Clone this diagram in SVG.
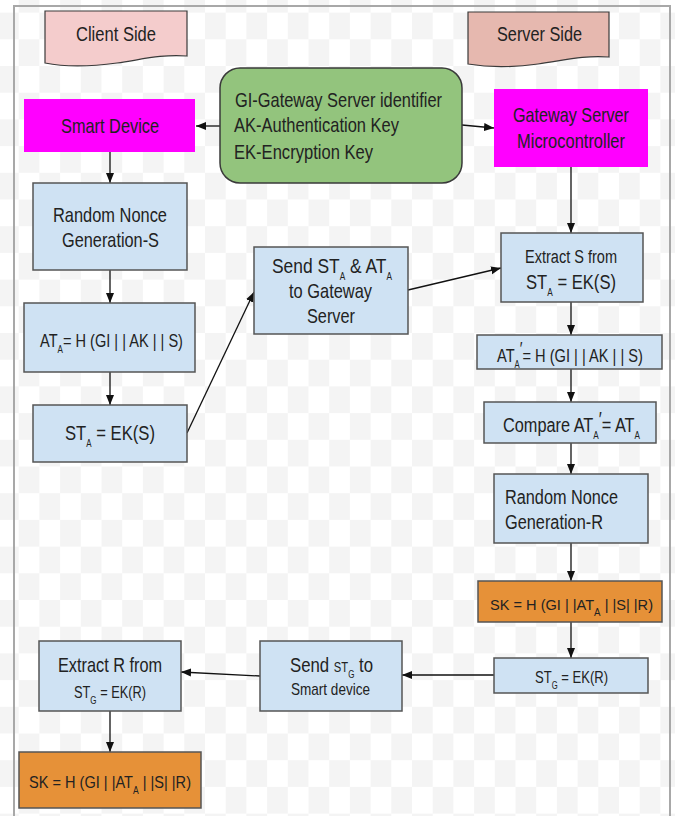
<svg xmlns="http://www.w3.org/2000/svg" width="675" height="816" viewBox="0 0 675 816">
  <style>
    .t { font-family: "Liberation Sans", Arial, sans-serif; fill: #222; }
    .f21 { font-size: 21px; }
    .f20 { font-size: 20px; }
    .f19 { font-size: 19px; }
    .f18 { font-size: 18px; }
    .f17 { font-size: 17px; }
    .f16 { font-size: 16px; }
    .f15 { font-size: 15px; }
    .sub { font-size: 10px; }
    .blue { fill: #cfe2f3; stroke: #555; stroke-width: 1.5; }
    .orange { fill: #e69138; stroke: #555; stroke-width: 1.5; }
    .magenta { fill: #ff00ff; }
    .green { fill: #93c47d; stroke: #3a3a3a; stroke-width: 1.5; }
    .banner { stroke: #3a3a3a; stroke-width: 1.2; }
    .edge { fill: none; stroke: #111; stroke-width: 1.3; marker-end: url(#arrow); }
  </style>
  <defs>
    <pattern id="checker" patternUnits="userSpaceOnUse" x="-2" y="12.6" width="41.4" height="53.4">
      <rect width="41.4" height="53.4" fill="#ffffff"/>
      <rect width="20.7" height="26.7" fill="#f4f4f4"/>
      <rect x="20.7" y="26.7" width="20.7" height="26.7" fill="#f4f4f4"/>
    </pattern>
    <marker id="arrow" markerUnits="userSpaceOnUse" markerWidth="10" markerHeight="10" viewBox="0 0 10 10" refX="10" refY="5" orient="auto">
      <path d="M0,1 L10,5 L0,9 Z" fill="#111"/>
    </marker>
  </defs>

  <!-- background and frame -->
  <rect width="675" height="816" fill="url(#checker)"/>
  <rect x="14" y="6" width="656" height="830" fill="none" stroke="#a8a8a8" stroke-width="2"/>

  <!-- connectors -->
  <g id="connectors">
    <line class="edge" x1="220" y1="126" x2="196" y2="126"/>
    <line class="edge" x1="462" y1="125" x2="494" y2="128"/>
    <line class="edge" x1="110" y1="152" x2="110" y2="183"/>
    <line class="edge" x1="110" y1="270" x2="110" y2="303"/>
    <line class="edge" x1="110" y1="372" x2="110" y2="405"/>
    <line class="edge" x1="187" y1="433" x2="254" y2="292"/>
    <line class="edge" x1="408" y1="290" x2="501" y2="268"/>
    <line class="edge" x1="571" y1="167" x2="571" y2="233"/>
    <line class="edge" x1="571" y1="302" x2="571" y2="335"/>
    <line class="edge" x1="571" y1="369" x2="571" y2="402"/>
    <line class="edge" x1="571" y1="443" x2="571" y2="474"/>
    <line class="edge" x1="571" y1="543" x2="571" y2="581"/>
    <line class="edge" x1="571" y1="622" x2="571" y2="658"/>
    <line class="edge" x1="494" y1="675" x2="402" y2="675"/>
    <line class="edge" x1="260" y1="676" x2="181" y2="672"/>
    <line class="edge" x1="110" y1="711" x2="110" y2="752"/>
  </g>

  <!-- side banners -->
  <g id="client-side">
    <path class="banner" fill="#f4cccc" d="M45 11 H187 V56 C160 54 140 60 117 63 C95 66 70 68 45 63 Z"/>
    <text class="t f21" x="76" y="41" textLength="80" lengthAdjust="spacingAndGlyphs">Client Side</text>
  </g>
  <g id="server-side">
    <path class="banner" fill="#e6b8af" d="M468 12 H609 V57 C582 55 562 61 538 64 C516 67 492 68 468 64 Z"/>
    <text class="t f21" x="497" y="41" textLength="85" lengthAdjust="spacingAndGlyphs">Server Side</text>
  </g>

  <!-- key legend -->
  <g id="keys">
    <rect class="green" x="220" y="68" width="242" height="115" rx="20"/>
    <text class="t f21" x="235" y="107" textLength="207" lengthAdjust="spacingAndGlyphs">GI-Gateway Server identifier</text>
    <text class="t f21" x="234" y="132" textLength="165" lengthAdjust="spacingAndGlyphs">AK-Authentication Key</text>
    <text class="t f21" x="234" y="159" textLength="139" lengthAdjust="spacingAndGlyphs">EK-Encryption Key</text>
  </g>

  <!-- client column -->
  <g id="smart-device">
    <rect class="magenta" x="24" y="99" width="171" height="53"/>
    <text class="t f21" x="61" y="133" textLength="98" lengthAdjust="spacingAndGlyphs">Smart Device</text>
  </g>
  <g id="nonce-s">
    <rect class="blue" x="33" y="183" width="154" height="87"/>
    <text class="t f21" x="53" y="222" textLength="114" lengthAdjust="spacingAndGlyphs">Random Nonce</text>
    <text class="t f21" x="62" y="247" textLength="97" lengthAdjust="spacingAndGlyphs">Generation-S</text>
  </g>
  <g id="auth-tag">
    <rect class="blue" x="24" y="303" width="171" height="69"/>
    <text class="t f18" x="40" y="347" textLength="143" lengthAdjust="spacingAndGlyphs">AT<tspan class="sub" dy="6">A</tspan><tspan dy="-6">= H (GI | | AK | | S)</tspan></text>
  </g>
  <g id="encrypt-s">
    <rect class="blue" x="33" y="405" width="154" height="57"/>
    <text class="t f21" x="65" y="440" textLength="90" lengthAdjust="spacingAndGlyphs">ST<tspan class="sub" dy="7">A</tspan><tspan dy="-7"> = EK(S)</tspan></text>
  </g>
  <g id="send-st-at">
    <rect class="blue" x="254" y="247" width="154" height="87"/>
    <text class="t f21" x="272" y="273" textLength="120" lengthAdjust="spacingAndGlyphs">Send ST<tspan class="sub" dy="7">A</tspan><tspan dy="-7"> &amp;  AT</tspan><tspan class="sub" dy="7">A</tspan></text>
    <text class="t f21" x="289" y="298" textLength="83" lengthAdjust="spacingAndGlyphs">to Gateway</text>
    <text class="t f21" x="307" y="323" textLength="48" lengthAdjust="spacingAndGlyphs">Server</text>
  </g>

  <!-- server column -->
  <g id="gateway">
    <rect class="magenta" x="494" y="89" width="154" height="78"/>
    <text class="t f21" x="513" y="122" textLength="116" lengthAdjust="spacingAndGlyphs">Gateway Server</text>
    <text class="t f21" x="517" y="148" textLength="108" lengthAdjust="spacingAndGlyphs">Microcontroller</text>
  </g>
  <g id="extract-s">
    <rect class="blue" x="501" y="233" width="142" height="69"/>
    <text class="t f18" x="525" y="263" textLength="92" lengthAdjust="spacingAndGlyphs">Extract S from</text>
    <text class="t f20" x="526" y="289" textLength="90" lengthAdjust="spacingAndGlyphs">ST<tspan class="sub" dy="7">A</tspan><tspan dy="-7"> = EK(S)</tspan></text>
  </g>
  <g id="auth-tag-check">
    <rect class="blue" x="477" y="335" width="185" height="34"/>
    <text class="t f19" x="497" y="362" textLength="146" lengthAdjust="spacingAndGlyphs">AT<tspan class="sub" dy="6">A</tspan><tspan dy="-13">′</tspan><tspan dy="7">= H (GI | | AK | | S)</tspan></text>
  </g>
  <g id="compare">
    <rect class="blue" x="484" y="402" width="172" height="41"/>
    <text class="t f20" x="503" y="432" textLength="137" lengthAdjust="spacingAndGlyphs">Compare AT<tspan class="sub" dy="7">A</tspan><tspan dy="-13">′</tspan><tspan dy="6">= AT</tspan><tspan class="sub" dy="7">A</tspan></text>
  </g>
  <g id="nonce-r">
    <rect class="blue" x="494" y="474" width="154" height="69"/>
    <text class="t f20" x="505" y="504" textLength="113" lengthAdjust="spacingAndGlyphs">Random Nonce</text>
    <text class="t f20" x="505" y="529" textLength="98" lengthAdjust="spacingAndGlyphs">Generation-R</text>
  </g>
  <g id="session-key-server">
    <rect class="orange" x="478" y="581" width="184" height="41"/>
    <text class="t f15" x="490" y="610" textLength="163" lengthAdjust="spacingAndGlyphs">SK = H (GI | |AT<tspan class="sub" dy="6">A</tspan><tspan dy="-6"> | |S| |R)</tspan></text>
  </g>
  <g id="encrypt-r">
    <rect class="blue" x="494" y="658" width="154" height="35"/>
    <text class="t f17" x="535" y="683" textLength="73" lengthAdjust="spacingAndGlyphs">ST<tspan class="sub" dy="6">G</tspan><tspan dy="-6"> = EK(R)</tspan></text>
  </g>

  <!-- return path -->
  <g id="send-st-g">
    <rect class="blue" x="260" y="641" width="142" height="70"/>
    <text class="t f21" x="290" y="672" textLength="83" lengthAdjust="spacingAndGlyphs">Send <tspan font-size="14">ST</tspan><tspan class="sub" dy="6">G</tspan><tspan dy="-6">  to</tspan></text>
    <text class="t f17" x="291" y="695" textLength="79" lengthAdjust="spacingAndGlyphs">Smart device</text>
  </g>
  <g id="extract-r">
    <rect class="blue" x="39" y="641" width="142" height="70"/>
    <text class="t f21" x="58" y="672" textLength="104" lengthAdjust="spacingAndGlyphs">Extract R from</text>
    <text class="t f16" x="74" y="698" textLength="72" lengthAdjust="spacingAndGlyphs">ST<tspan class="sub" dy="6">G</tspan><tspan dy="-6"> = EK(R)</tspan></text>
  </g>
  <g id="session-key-client">
    <rect class="orange" x="19" y="752" width="182" height="56"/>
    <text class="t f17" x="29" y="788" textLength="162" lengthAdjust="spacingAndGlyphs">SK = H (GI | |AT<tspan class="sub" dy="6">A</tspan><tspan dy="-6"> | |S| |R)</tspan></text>
  </g>
</svg>
